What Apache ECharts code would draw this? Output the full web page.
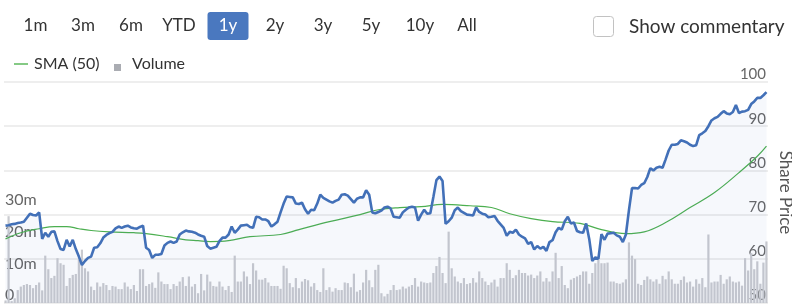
<!DOCTYPE html>
<html><head><meta charset="utf-8">
<script src="https://cdn.jsdelivr.net/npm/echarts@6/dist/echarts.min.js"></script>
<style>html,body{margin:0;padding:0;background:#fff}#c{width:792px;height:308px}</style>
</head><body><div id="c"></div>
<script>
const rangeButtons = ['1m','3m','6m','YTD','1y','2y','3y','5y','10y','All'];
const selectedRange = '1y';
const priceTicks = [50, 60, 70, 80, 90, 100];
const volumeTickLabels = ['0', '10m', '20m', '30m'];

const sharePrice = [
67.5,67.6,67.8,67.9,68.1,68.2,68.4,69.3,70.2,69.9,
69.8,70.5,64.5,65.9,65.0,66.1,66.2,64.0,62.2,62.0,
64.3,62.8,64.3,62.2,60.5,58.6,59.5,60.2,60.5,62.5,
62.6,63.5,64.8,65.4,65.8,66.1,66.9,67.3,67.0,67.3,
67.5,67.1,66.9,66.8,67.2,67.5,62.5,62.0,60.2,60.9,
60.9,61.1,63.0,63.6,63.9,63.6,63.9,65.5,66.0,66.4,
66.2,66.1,65.9,65.5,65.2,65.0,62.9,62.3,62.5,62.7,
64.0,64.8,64.8,65.5,67.3,65.9,66.6,67.5,67.6,67.7,
67.2,67.0,69.5,69.4,68.9,68.9,68.5,67.3,67.8,68.4,
70.5,72.5,74.1,74.0,73.9,72.5,72.4,72.7,71.2,70.2,
71.1,71.0,72.5,74.5,73.8,73.4,73.0,72.7,73.1,73.4,
74.5,74.6,74.3,73.5,72.7,73.6,73.9,73.9,75.5,74.5,
70.5,70.3,70.6,70.9,71.6,71.8,71.4,69.5,69.4,69.3,
70.5,71.1,71.6,71.8,71.6,68.6,70.0,71.1,70.2,70.3,
74.0,77.8,78.6,77.6,67.9,68.5,69.3,71.0,71.6,70.8,
70.4,70.0,69.9,69.8,71.6,70.6,70.2,70.0,69.4,69.5,
69.7,68.6,67.8,67.0,65.2,66.1,65.9,66.6,65.5,65.0,
64.6,63.4,63.8,62.1,62.9,62.3,62.7,61.8,63.8,64.2,
66.0,67.0,66.6,68.5,69.5,68.0,68.2,66.3,66.0,65.9,
68.0,64.5,59.5,60.3,60.0,65.6,64.3,65.7,65.8,65.9,
65.3,65.0,63.8,65.5,71.0,76.0,76.0,75.9,76.7,77.1,
78.5,80.5,80.0,80.6,80.8,80.6,82.5,84.5,85.8,85.8,
86.0,86.8,86.6,86.3,85.8,85.5,85.7,88.0,88.4,88.9,
90.0,91.3,91.8,92.1,92.8,93.4,92.9,92.7,93.2,94.8,
93.0,93.3,93.4,93.7,95.0,95.6,96.4,96.4,97.0,97.7
];

// volume in millions
const volumeM = [
0.8,27.5,0.6,1.5,4.1,5.2,5.7,6.0,5.7,4.7,
5.7,6.5,4.0,15.0,10.7,7.9,8.6,14.2,12.6,12.1,
5.4,7.9,8.9,9.2,13.7,16.9,11.0,10.0,5.2,4.1,
6.5,5.2,6.3,5.7,4.1,5.4,5.2,4.4,4.4,6.5,
5.2,4.4,5.7,3.8,10.7,10.7,5.4,6.0,6.5,4.8,
9.7,6.8,6.0,6.0,4.4,6.0,5.4,6.8,8.2,5.4,
8.4,5.2,6.0,3.1,9.2,4.0,9.0,6.8,5.4,5.2,
6.8,5.2,4.1,5.4,3.5,15.0,6.8,6.8,10.0,8.4,
6.0,12.6,10.3,7.4,7.4,7.9,6.5,5.4,5.4,5.4,
4.5,11.8,11.0,6.3,5.0,7.9,4.7,6.8,7.6,7.2,
5.2,6.3,4.1,3.5,11.0,4.1,5.0,3.6,4.7,4.1,
4.1,6.5,6.3,5.0,9.3,3.6,4.1,6.5,10.5,7.2,
5.0,10.5,12.1,3.1,2.1,2.9,4.1,5.7,4.1,4.3,
5.2,4.6,5.2,5.7,7.9,5.2,6.8,6.5,6.3,6.5,
9.5,11.7,14.6,9.5,6.3,22.6,11.0,8.4,6.8,6.3,
7.9,6.0,6.3,7.9,6.5,10.0,7.9,6.8,5.7,6.5,
7.4,5.2,7.9,7.9,12.6,10.5,7.9,8.8,10.5,9.5,
9.5,8.7,9.0,7.9,8.7,10.0,6.8,7.9,6.8,10.0,
15.9,7.9,11.7,5.7,4.7,7.4,7.9,8.4,8.9,10.0,
10.0,6.1,9.5,12.6,13.7,12.6,12.6,12.8,6.8,6.8,
6.3,6.1,6.5,7.5,19.2,15.0,13.9,6.1,5.7,7.3,
8.4,7.5,6.8,7.5,6.1,8.6,7.5,10.0,7.5,6.1,
6.1,7.3,8.4,6.5,6.8,5.2,7.5,6.1,7.9,5.0,
21.7,6.5,6.8,6.8,8.9,6.1,7.5,8.4,6.8,6.5,
6.8,5.5,14.2,10.3,15.8,10.7,13.2,6.1,12.8,19.5
];

// SMA (50) read at selected trading-day indices: [dayIndex, value]
const smaPoints = [
[0,64.5],[5,65.9],[11,66.8],[16,67.3],[20,67.3],[24,66.8],[28,66.4],[34,66.1],
[42,65.9],[46,65.7],[53,65.0],[59,64.3],[63,64.1],[67,63.9],[73,64.1],[80,65.0],
[90,65.5],[96,66.6],[106,68.4],[116,70.0],[122,71.1],[129,71.6],[136,71.8],[143,72.3],
[152,72.0],[159,71.6],[165,70.2],[172,69.1],[179,68.4],[188,68.0],[195,66.6],
[203,65.7],[209,66.1],[216,68.2],[224,71.6],[232,75.0],[240,79.5],[246,83.2],[249,85.5]
];

// trading-day category labels (hidden axis)
const categories = [];
(function(){
  const d = new Date(Date.UTC(2023, 0, 3));
  while (categories.length < sharePrice.length) {
    const wd = d.getUTCDay();
    if (wd !== 0 && wd !== 6) categories.push(d.toISOString().slice(0,10));
    d.setUTCDate(d.getUTCDate() + 1);
  }
})();

const FONT = 'Lato, "Open Sans", sans-serif';
const btnX = [35.5, 83, 131, 179, 228, 275, 323, 371, 420, 467];
const graphics = [];
rangeButtons.forEach((b, i) => {
  if (b === selectedRange) {
    graphics.push({type:'rect', shape:{x:btnX[i]-20.5, y:12, width:41, height:28, r:3},
      style:{fill:'#4a78bf'}});
  }
  graphics.push({type:'text', x:btnX[i], y:26,
    style:{text:b, fontSize:17, fontFamily:FONT, fill: b === selectedRange ? '#ffffff' : '#333333',
      align:'center', verticalAlign:'middle', textAlign:'center', textVerticalAlign:'middle'}});
});
graphics.push({type:'rect', shape:{x:593.5, y:16.5, width:20, height:20, r:3},
  style:{fill:'#ffffff', stroke:'#c2c2c2', lineWidth:1}});
graphics.push({type:'text', x:629, y:27,
  style:{text:'Show commentary', fontSize:19, fontFamily:FONT, fill:'#333333',
    align:'left', verticalAlign:'middle', textAlign:'left', textVerticalAlign:'middle'}});
graphics.push({type:'line', shape:{x1:14, y1:64, x2:28, y2:64}, style:{stroke:'#5cb85c', lineWidth:1.5}});
graphics.push({type:'text', x:34, y:64,
  style:{text:'SMA (50)', fontSize:16, fontFamily:FONT, fill:'#333333',
    align:'left', verticalAlign:'middle', textAlign:'left', textVerticalAlign:'middle'}});
graphics.push({type:'rect', shape:{x:114, y:64, width:7, height:7}, style:{fill:'#aaacb2'}});
graphics.push({type:'text', x:132, y:64,
  style:{text:'Volume', fontSize:16, fontFamily:FONT, fill:'#333333',
    align:'left', verticalAlign:'middle', textAlign:'left', textVerticalAlign:'middle'}});

const chart = echarts.init(document.getElementById('c'), null, {renderer:'canvas'});
chart.setOption({
  animation: false,
  backgroundColor: '#ffffff',
  grid: {left:4, right:24, top:82, bottom:5, containLabel:false, outerBoundsMode:'none'},
  graphic: graphics,
  xAxis: {type:'category', data:categories, boundaryGap:true,
    axisLine:{show:false}, axisTick:{show:false}, axisLabel:{show:false}, splitLine:{show:false}},
  yAxis: [
    {type:'value', position:'right', min:priceTicks[0], max:priceTicks[priceTicks.length-1], interval:10,
      name:'Share Price', nameLocation:'middle', nameRotate:-90, nameGap:8,
      nameTextStyle:{fontSize:17, color:'#555555', fontFamily:FONT},
      axisLine:{show:false}, axisTick:{show:false},
      axisLabel:{inside:true, margin:2, fontSize:15, color:'#666666', fontFamily:FONT, verticalAlign:'bottom'},
      splitLine:{show:true, lineStyle:{color:'#e8e8e8', width:1.5}}},
    {type:'value', position:'left', min:0, max:70, interval:10,
      axisLine:{show:false}, axisTick:{show:false}, splitLine:{show:false},
      axisLabel:{inside:true, margin:1, fontSize:16, color:'#666666', fontFamily:FONT, verticalAlign:'bottom',
        formatter: v => (v/10 < volumeTickLabels.length ? volumeTickLabels[v/10] : '')}}
  ],
  series: [
    {type:'bar', name:'Volume', yAxisIndex:1, data:volumeM, barWidth:'72%',
      itemStyle:{color:'#c9cacf'}, z:1},
    {type:'line', name:'Share Price', yAxisIndex:0, data:sharePrice, showSymbol:false, symbol:'none',
      lineStyle:{color:'#4270b8', width:2.6}, areaStyle:{color:'rgba(70,110,200,0.07)', origin:'start'}, z:3},
    {type:'line', name:'SMA (50)', yAxisIndex:0, data:smaPoints, showSymbol:false, symbol:'none',
      smooth:0.4, connectNulls:true, lineStyle:{color:'#4caf50', width:1.2}, z:2}
  ]
});
</script>
</body></html>
